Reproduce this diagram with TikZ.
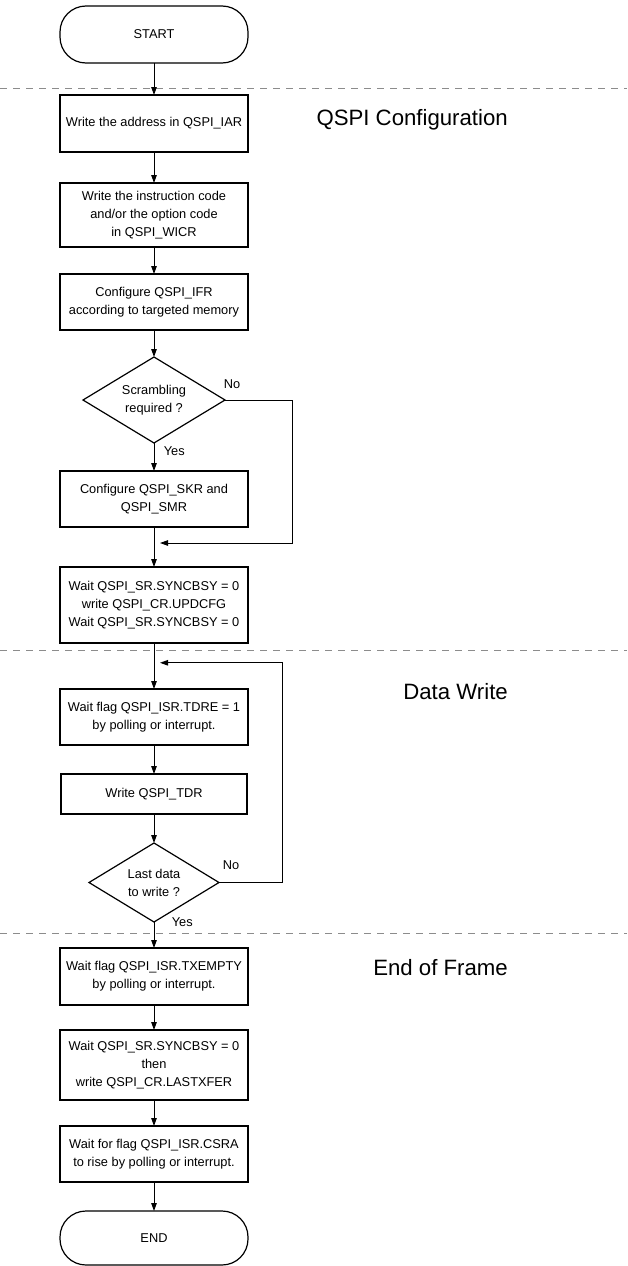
\documentclass[tikz,border=0pt]{standalone}
\usepackage{fontspec}
\setmainfont{Liberation Sans}
\usepackage{tikz}
\usetikzlibrary{shapes,arrows.meta,positioning,calc}

\begin{document}
\begin{tikzpicture}[
    x=1pt, y=1pt,
    node distance=28pt,
    proc/.style={rectangle, draw, line width=1.2pt, outer sep=0pt, minimum width=188pt, minimum height=56pt, inner sep=2pt, align=center, font=\fontsize{12.8pt}{18pt}\selectfont},
    term/.style={proc, rounded corners=26pt},
    decision/.style={diamond, draw, line width=1.2pt, outer sep=0pt, aspect=1.65, inner sep=0pt, align=center, font=\fontsize{12.8pt}{18pt}\selectfont},
    flow/.style={-{Triangle[length=8pt,width=5.5pt]}, line width=1pt},
    answer/.style={font=\fontsize{12.8pt}{15pt}\selectfont},
    phase/.style={anchor=east, inner sep=0pt, font=\fontsize{22.2pt}{26pt}\selectfont},
    sep/.style={dash pattern=on 7pt off 6pt, draw=black!45, line width=1pt},
]
    \useasboundingbox (0,0) rectangle (627,-1266);

    % phase separators and titles
    \draw[sep] (0,-88) -- (627,-88);
    \draw[sep] (0,-650) -- (627,-650);
    \draw[sep] (0,-933) -- (627,-933);
    \node[phase] (cfg) at (508,-120) {QSPI Configuration};
    \node[phase] (dwr) at (508,-692) {Data Write};
    \node[phase] (eof) at (508,-968) {End of Frame};

    % configuration
    \node[term, minimum height=57pt] (start) at (154,-34.5) {START};
    \node[proc, minimum height=57pt, below=32pt of start] (iar) {Write the address in QSPI\_IAR};
    \node[proc, minimum height=64pt, below=31pt of iar] (wicr) {Write the instruction code\\and/or the option code\\in QSPI\_WICR};
    \node[proc, below=27pt of wicr] (ifr) {Configure QSPI\_IFR\\according to targeted memory};
    \node[decision, minimum width=142pt, minimum height=86pt, below=27pt of ifr] (scr) {Scrambling\\required ?};
    \node[proc, below=28pt of scr] (skr) {Configure QSPI\_SKR and\\QSPI\_SMR};
    \node[proc, minimum height=76pt, below=40pt of skr] (upd) {Wait QSPI\_SR.SYNCBSY = 0\\write QSPI\_CR.UPDCFG\\Wait QSPI\_SR.SYNCBSY = 0};

    % data write
    \node[proc, below=46pt of upd] (tdre) {Wait flag QSPI\_ISR.TDRE = 1\\by polling or interrupt.};
    \node[proc, minimum width=186pt, minimum height=40pt, below=29pt of tdre] (tdr) {Write QSPI\_TDR};
    \node[decision, minimum width=130pt, minimum height=79pt, below=29pt of tdr] (last) {Last data\\to write ?};

    % end of frame
    \node[proc, minimum height=57pt, below=26pt of last] (txe) {Wait flag QSPI\_ISR.TXEMPTY\\by polling or interrupt.};
    \node[proc, minimum height=70pt, below=25pt of txe] (lastx) {Wait QSPI\_SR.SYNCBSY = 0\\then\\write QSPI\_CR.LASTXFER};
    \node[proc, below=26pt of lastx] (csra) {Wait for flag QSPI\_ISR.CSRA\\to rise by polling or interrupt.};
    \node[term, minimum height=54pt, below=29pt of csra] (end) {END};

    % joins of the two loops
    \coordinate (join1) at ($(skr.south)!0.4!(upd.north)$);
    \coordinate (join2) at ($(upd.south)!0.43!(tdre.north)$);

    \draw[flow] (start) -- (iar);
    \draw[flow] (iar) -- (wicr);
    \draw[flow] (wicr) -- (ifr);
    \draw[flow] (ifr) -- (scr);
    \draw[flow] (scr) -- node[answer, pos=0.3, right=6pt] {Yes} (skr);
    \draw[flow] (scr.east) -- node[answer, pos=0, anchor=south west, xshift=-5pt, yshift=8pt] {No} ++(67,0) |- ([xshift=6pt]join1);
    \draw[flow] (skr) -- (upd);
    \draw[flow] (upd) -- (tdre);
    \draw[flow] (tdre) -- (tdr);
    \draw[flow] (tdr) -- (last);
    \draw[flow] (last.east) -- node[answer, pos=0, anchor=south west, xshift=0pt, yshift=9pt] {No} ++(63,0) |- ([xshift=6pt]join2);
    \draw[flow] (last) -- node[answer, pos=0, anchor=west, xshift=14pt] {Yes} (txe);
    \draw[flow] (txe) -- (lastx);
    \draw[flow] (lastx) -- (csra);
    \draw[flow] (csra) -- (end);
\end{tikzpicture}
\end{document}
